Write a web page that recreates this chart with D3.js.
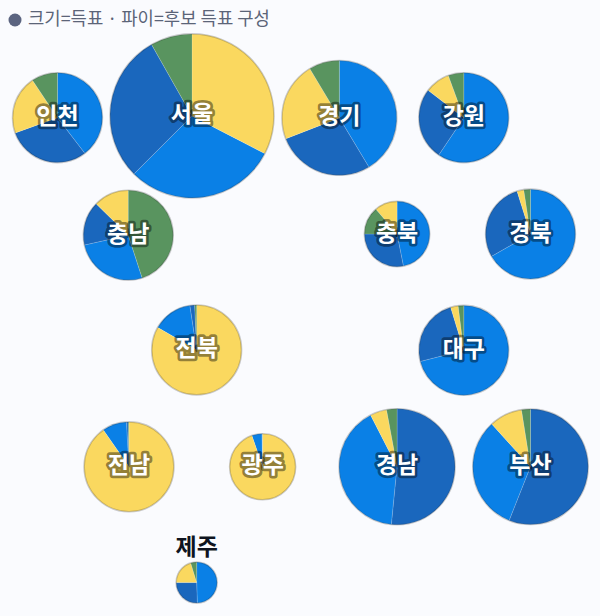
<!DOCTYPE html>
<html><head><meta charset="utf-8">
<script src="https://cdn.jsdelivr.net/npm/d3@7"></script>
<style>html,body{margin:0;padding:0;background:#fafbfe}svg{display:block}</style>
</head><body><svg id="c" width="600" height="616"></svg>
<script>
const regions = ["서울","인천","경기","강원","충남","충북","경북","전북","대구","전남","광주","경남","부산","제주"];
const voteSize = [100,30,49,30,30,15.9,30,30,30,30,16.2,50,49.5,6.25];
const gridCol = [1.926,-0.09,4.135,6,0.971,5,7,1.996,6,0.982,2.985,5,7,1.996];
const gridRow = [0.995,1.01,1.012,1.01,2.02,2.01,2.01,3.006,3.009,4.01,4.01,4.01,4.01,5.005];
const blueShare  = [29.9,39.6,41.4,59.4,26.5,46.9,66.4,14.3,70.8,8.8,5.0,40.8,32.2,49.5];
const darkShare  = [29.3,29.9,27.7,26.0,15.8,28.1,28.3,1.7,24.2,0.6,0.2,51.4,55.9,25.5];
const yellowShare= [32.6,21.1,22.3,9.0,12.7,11.25,2.4,83.3,2.7,90.3,94.7,4.6,9.2,20.3];
const greenShare = [8.2,9.4,8.6,5.6,45.0,13.75,2.4,0.7,2.0,0.3,0.1,2.9,2.5,4.7];
const seriesNames = ["blue","dark","yellow","green"];
const seriesColors = ["#0a80e6","#1a67bd","#fad85f","#59945f"];
const legendText = "크기=득표 · 파이=후보 득표 구성";
const noHaloRegion = "제주";

const svg = d3.select("#c");
const x = d3.scaleLinear().domain([0,7]).range([63.5,530.5]);
const y = d3.scaleLinear().domain([1,5]).range([116.5,582]);
const r = d3.scaleSqrt().domain([0,100]).range([0,82]);
const color = d3.scaleOrdinal(seriesNames, seriesColors);
const pie = d3.pie().value(d=>d.v).sort((a,b)=>b.v-a.v);
const FONT = "'Noto Sans CJK KR','Noto Sans',sans-serif";

svg.append("circle").attr("cx",15).attr("cy",20).attr("r",6.5).attr("fill","#5b6480");
svg.append("text").attr("x",28).attr("y",25).attr("font-family",FONT).attr("font-size",17.8)
  .attr("fill","#5b6478").text(legendText);

const nodes = regions.map((name,i)=>({name,i,size:voteSize[i],
  parts:seriesNames.map((s,k)=>({s,v:[blueShare,darkShare,yellowShare,greenShare][k][i]}))}));

const g = svg.selectAll("g.reg").data(nodes).join("g").attr("class","reg")
  .attr("transform",d=>`translate(${x(gridCol[d.i])},${y(gridRow[d.i])})`);
g.each(function(d){
  const arc = d3.arc().innerRadius(0).outerRadius(r(d.size));
  d3.select(this).selectAll("path").data(pie(d.parts)).join("path")
    .attr("d",arc).attr("fill",p=>color(p.data.s))
    .attr("stroke","#ffffff").attr("stroke-opacity",0.3).attr("stroke-width",0.5);
});
g.append("circle").attr("r",d=>r(d.size)).attr("fill","none").attr("stroke","#000").attr("stroke-opacity",0.2).attr("stroke-width",1.6);
g.append("text").attr("text-anchor","middle").attr("font-family",FONT).attr("font-weight",700)
  .attr("font-size",23)
  .attr("y",d=>d.name===noHaloRegion?-28:6.5)
  .attr("fill",d=>d.name===noHaloRegion?"#0e1420":"#ffffff")
  .attr("stroke",d=>d.name===noHaloRegion?"none":"#000")
  .attr("stroke-opacity",0.42)
  .attr("stroke-width",5.5).attr("stroke-linejoin","round").attr("paint-order","stroke")
  .text(d=>d.name);
</script></body></html>
